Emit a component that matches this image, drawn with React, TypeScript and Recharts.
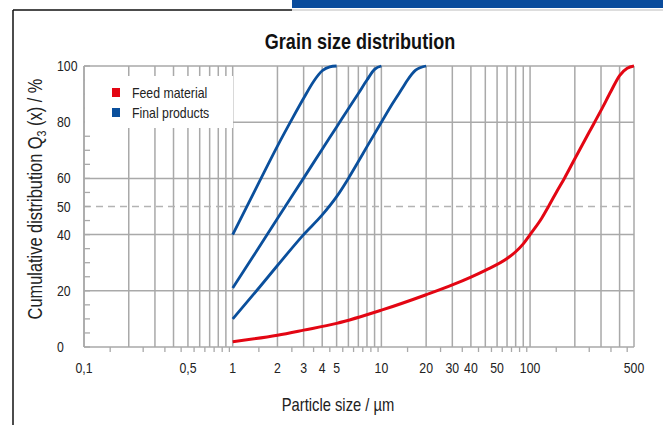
import React from "react";
import { ComposedChart, Line, XAxis, YAxis, ReferenceLine, Legend } from "recharts";

// particle sizes in µm, Q3 in %
const feedSize = [1, 2, 3, 5, 10, 20, 30, 40, 50, 70, 80, 90, 100, 120, 133, 150, 170, 200, 250, 300, 350, 400, 450, 500];
const feedQ3 = [1.9, 4.2, 6, 8.4, 13.1, 18.6, 22.1, 24.9, 27.3, 31.5, 33.9, 36.7, 40, 45.9, 50, 55, 60, 67, 76.5, 84.2, 91, 96.6, 99.2, 100];

const fineSize = [1, 1.5, 2, 2.5, 3, 3.5, 4, 4.5, 5];
const fineQ3 = [40, 58.5, 71.5, 81, 88.5, 94.5, 98.3, 99.7, 100];

const midSize = [1, 1.5, 2, 3, 4, 5, 6, 7, 8, 9, 10];
const midQ3 = [21, 35.4, 45.7, 60.1, 70.4, 78.3, 84.8, 90.2, 95, 98.8, 100];

const coarseSize = [1, 1.5, 2, 3, 4, 5, 6, 7, 8, 10, 12, 14, 15, 17, 20];
const coarseQ3 = [10, 21, 29, 40, 47, 53.5, 60, 66, 71.3, 80, 87, 92.5, 95, 98.5, 100];

const gridSizes = [
  0.1, 0.2, 0.3, 0.4, 0.5, 0.6, 0.7, 0.8, 0.9,
  1, 2, 3, 4, 5, 6, 7, 8, 9,
  10, 20, 30, 40, 50, 60, 70, 80, 90,
  100, 200, 300, 400, 500,
];
const halfSizes = [
  0.15, 0.25, 0.35, 0.45, 0.55, 0.65, 0.75, 0.85, 0.95,
  1.5, 2.5, 3.5, 4.5, 5.5, 6.5, 7.5, 8.5, 9.5,
  15, 25, 35, 45, 55, 65, 75, 85, 95,
  150, 250, 350, 450,
];
// the "50" label sits under the 60 gridline in the original
const xLabelValues = [0.1, 0.5, 1, 2, 3, 4, 5, 10, 20, 30, 40, 60, 100, 500];
const xLabelTexts = ["0,1", "0,5", "1", "2", "3", "4", "5", "10", "20", "30", "40", "50", "100", "500"];

const yMinorTicks = [0, 5, 10, 15, 20, 25, 30, 35, 40, 45, 50, 55, 60, 65, 70, 75, 80, 85, 90, 95, 100];
const yLabels = [0, 20, 40, 50, 60, 80, 100];
const yGrid = [20, 40, 60, 80, 100];

const legendItems = [
  { name: "Feed material", color: "#e30613" },
  { name: "Final products", color: "#0a4f9c" },
];

const RED = "#e30613";
const BLUE = "#0a4f9c";
const GRID = "#a9a9a9";
const TEXT = "#222";
const FONT = '"Liberation Sans", Arial, sans-serif';
const SQUEEZE = 0.82; // the original uses a condensed face

const toPoints = (sizes: number[], q3: number[]) => sizes.map((s, i) => ({ size: s, q3: q3[i] }));

const feedData = toPoints(feedSize, feedQ3);
const finalData = [toPoints(fineSize, fineQ3), toPoints(midSize, midQ3), toPoints(coarseSize, coarseQ3)];

const CText = ({ x, y, anchor = "middle", size = 15, weight = "normal", rotate = 0, fill = TEXT, children }: any) => (
  <text
    transform={`translate(${x} ${y})${rotate ? ` rotate(${rotate})` : ""} scale(${SQUEEZE} 1)`}
    textAnchor={anchor}
    fontFamily={FONT}
    fontSize={size}
    fontWeight={weight}
    fill={fill}
  >
    {children}
  </text>
);

const XTick = (props: any) => {
  const { x, y, payload } = props;
  const i = xLabelValues.indexOf(payload.value);
  if (i < 0) {
    return <line x1={x} x2={x} y1={y} y2={y + 5} stroke={GRID} strokeWidth={1.3} />;
  }
  return (
    <CText x={x} y={y + 26}>
      {xLabelTexts[i]}
    </CText>
  );
};

const YTick = (props: any) => {
  const { x, y, payload } = props;
  const show = yLabels.includes(payload.value);
  return (
    <g>
      <line x1={x} x2={x + 6} y1={y} y2={y} stroke={GRID} strokeWidth={1.3} />
      {show && (
        <CText x={x - 27} y={y + 5} anchor="start">
          {payload.value}
        </CText>
      )}
    </g>
  );
};

const LegendBox = () => (
  <div style={{ paddingTop: 6, fontFamily: FONT, fontSize: 15, color: TEXT }}>
    {legendItems.map((it) => (
      <div key={it.name} style={{ display: "flex", alignItems: "center", height: 20, marginLeft: 27 }}>
        <span style={{ width: 8, height: 9, background: it.color, display: "inline-block", marginRight: 12 }} />
        <span
          style={{
            display: "inline-block",
            whiteSpace: "nowrap",
            transform: `scaleX(${SQUEEZE})`,
            transformOrigin: "left center",
          }}
        >
          {it.name}
        </span>
      </div>
    ))}
  </div>
);

export default function App() {
  return (
    <div style={{ position: "absolute", left: 0, top: 0, width: 663, height: 425, background: "#fff" }}>
      <ComposedChart width={663} height={425} margin={{ top: 66, right: 29, left: 24, bottom: 48 }}>
        {gridSizes.map((v) => (
          <ReferenceLine key={`x${v}`} x={v} stroke={GRID} strokeWidth={1.5} />
        ))}
        {yGrid.map((v) => (
          <ReferenceLine key={`y${v}`} y={v} stroke={GRID} strokeWidth={1.5} />
        ))}
        <ReferenceLine y={50} stroke="#b3b3b3" strokeWidth={1.5} strokeDasharray="7 5" />
        <XAxis
          dataKey="size"
          type="number"
          scale="log"
          domain={[0.1, 500]}
          allowDataOverflow
          ticks={[...xLabelValues, ...halfSizes]}
          interval={0}
          tick={(p: any) => <XTick {...p} />}
          tickLine={false}
          tickSize={0}
          tickMargin={0}
          axisLine={{ stroke: GRID, strokeWidth: 1.5 }}
        />
        <YAxis
          type="number"
          domain={[0, 100]}
          ticks={yMinorTicks}
          interval={0}
          tick={(p: any) => <YTick {...p} />}
          tickLine={false}
          tickSize={0}
          tickMargin={0}
          axisLine={{ stroke: GRID, strokeWidth: 1.5 }}
        />
        <Legend
          layout="vertical"
          align="center"
          verticalAlign="middle"
          content={() => <LegendBox />}
          wrapperStyle={{ left: 85, top: 76, width: 148, height: 52, background: "#fff" }}
        />
        <Line
          data={feedData}
          dataKey="q3"
          type="monotone"
          stroke={RED}
          strokeWidth={3}
          dot={false}
          isAnimationActive={false}
        />
        {finalData.map((d, i) => (
          <Line
            key={i}
            data={d}
            dataKey="q3"
            type="monotone"
            stroke={BLUE}
            strokeWidth={2.8}
            dot={false}
            isAnimationActive={false}
          />
        ))}
      </ComposedChart>
      <svg
        width={663}
        height={425}
        style={{ position: "absolute", left: 0, top: 0, pointerEvents: "none" }}
      >
        <rect x={292} y={0} width={371} height={8} fill="#0a4c9c" />
        <line x1={13} y1={10} x2={292} y2={10} stroke="#111" strokeWidth={1.5} />
        <line x1={292} y1={10} x2={663} y2={10} stroke="#bbb" strokeWidth={1} />
        <line x1={13} y1={10} x2={13} y2={425} stroke="#111" strokeWidth={1.5} />
        <CText x={360} y={49} size={22} weight="bold" fill="#111">
          Grain size distribution
        </CText>
        <CText x={42} y={199} size={20} rotate={-90}>
          Cumulative distribution Q
          <tspan dy={4} fontSize={13}>3</tspan>
          <tspan dy={-4}> (x) / %</tspan>
        </CText>
        <CText x={338} y={411} size={18}>
          Particle size / µm
        </CText>
      </svg>
    </div>
  );
}
